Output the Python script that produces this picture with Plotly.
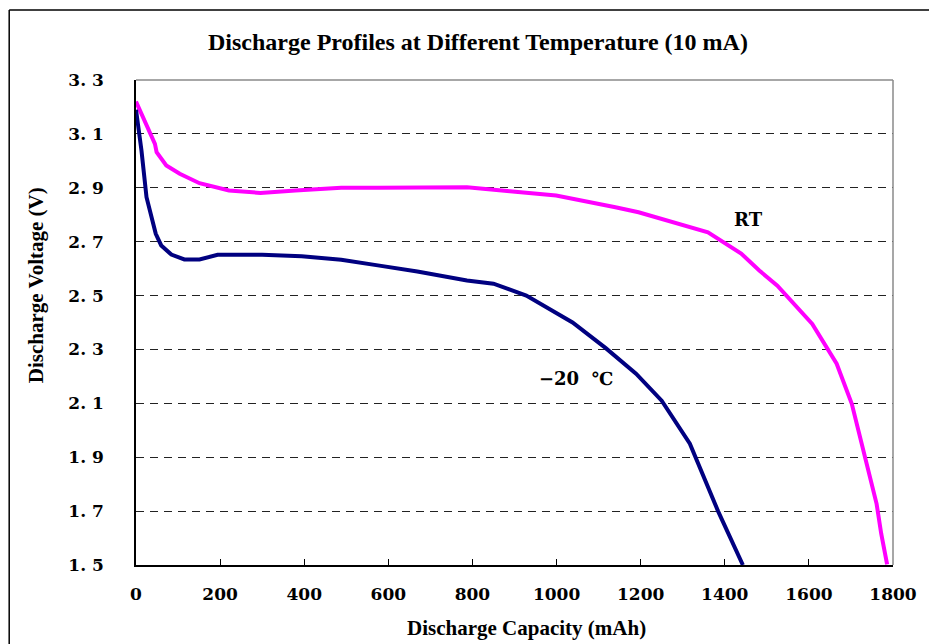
import plotly.graph_objects as go

# Data
rt_capacity = [0, 45, 49, 72, 104, 151, 221, 296, 379, 488, 575, 787, 889, 999,
               1140, 1195, 1360, 1439, 1482, 1525, 1608, 1666, 1702, 1737, 1761, 1772, 1786]
rt_voltage = [3.22, 3.063, 3.032, 2.983, 2.952, 2.917, 2.890, 2.881, 2.890, 2.900, 2.900,
              2.902, 2.887, 2.871, 2.828, 2.809, 2.735, 2.656, 2.593, 2.537, 2.395, 2.247,
              2.098, 1.876, 1.727, 1.616, 1.502]

lt_capacity = [0, 13, 25, 37, 47, 60, 84, 115, 151, 194, 300, 394, 488, 575, 669, 787,
               850, 928, 1038, 1117, 1189, 1250, 1317, 1384, 1443]
lt_voltage = [3.19, 3.038, 2.865, 2.791, 2.729, 2.686, 2.652, 2.634, 2.634, 2.651, 2.651,
              2.646, 2.633, 2.612, 2.589, 2.556, 2.544, 2.50, 2.40, 2.305, 2.21, 2.11,
              1.95, 1.70, 1.50]

x_ticks = [0, 200, 400, 600, 800, 1000, 1200, 1400, 1600, 1800]
y_ticks = [1.5, 1.7, 1.9, 2.1, 2.3, 2.5, 2.7, 2.9, 3.1, 3.3]
y_ticktext = ["1. 5", "1. 7", "1. 9", "2. 1", "2. 3", "2. 5", "2. 7", "2. 9", "3. 1", "3. 3"]

title_text = "Discharge Profiles at Different Temperature (10 mA)"
x_title = "Discharge Capacity (mAh)"
y_title = "Discharge Voltage (V)"

fig = go.Figure()
fig.add_trace(go.Scatter(x=rt_capacity, y=rt_voltage, mode="lines", name="RT",
                         line=dict(color="#FF00FF", width=4), showlegend=False))
fig.add_trace(go.Scatter(x=lt_capacity, y=lt_voltage, mode="lines", name="-20 ℃",
                         line=dict(color="#000080", width=4), showlegend=False))

tick_font = dict(family="DejaVu Serif", size=17, color="black", weight="bold")
axis_title_font = dict(family="Liberation Serif", size=21, color="black", weight="bold")
label_font = dict(family="DejaVu Serif", size=18, color="black", weight="bold")

fig.update_layout(
    width=929, height=644,
    margin=dict(l=136, r=29, t=80, b=79),
    paper_bgcolor="white", plot_bgcolor="white",
    xaxis=dict(range=[0, 1800], tickvals=x_ticks, ticktext=[str(v) for v in x_ticks],
               ticks="inside", ticklen=6, tickcolor="black", tickwidth=1,
               showgrid=False, zeroline=False, showline=True, linecolor="black",
               linewidth=1.5, tickfont=tick_font, ticklabelstandoff=13),
    yaxis=dict(range=[1.5, 3.3], tickvals=y_ticks, ticktext=y_ticktext,
               ticks="", showgrid=True, gridcolor="#222222", gridwidth=1,
               griddash="8px,6px", zeroline=False, showline=True, linecolor="black",
               linewidth=1.5, tickfont=tick_font, ticklabelstandoff=27),
    shapes=[
        dict(type="line", xref="paper", yref="paper", x0=0, x1=1, y0=1, y1=1,
             line=dict(color="#8a8a8a", width=1.5), layer="above"),
        dict(type="line", xref="paper", yref="paper", x0=1, x1=1, y0=0, y1=1,
             line=dict(color="#8a8a8a", width=1.5), layer="above"),
        dict(type="line", xref="paper", yref="paper", x0=-0.1675, x1=1.06,
             y0=1.1443, y1=1.1443, line=dict(color="black", width=1.5)),
        dict(type="line", xref="paper", yref="paper", x0=-0.1675, x1=-0.1675,
             y0=1.1443, y1=-0.2, line=dict(color="black", width=1.5)),
    ],
    annotations=[
        dict(text=title_text, xref="paper", yref="paper", x=0.4516, y=1.078,
             showarrow=False, xanchor="center", yanchor="middle",
             font=dict(family="Liberation Serif", size=24, color="black", weight="bold")),
        dict(text=x_title, xref="paper", yref="paper", x=0.516, y=-0.130,
             showarrow=False, xanchor="center", yanchor="middle", font=axis_title_font),
        dict(text=y_title, xref="paper", yref="paper", x=-0.132, y=0.577,
             showarrow=False, xanchor="center", yanchor="middle", textangle=-90,
             font=axis_title_font),
        dict(text="RT", x=1456, y=2.782, xref="x", yref="y", showarrow=False,
             font=label_font),
        dict(text="\u221220\u00a0\u00a0\u2103", x=1046, y=2.192, xref="x", yref="y",
             showarrow=False, font=label_font),
    ],
)

fig.write_html("out.html", config={"displayModeBar": False},
               post_script="document.body.style.margin='0';document.body.style.overflow='hidden';")
